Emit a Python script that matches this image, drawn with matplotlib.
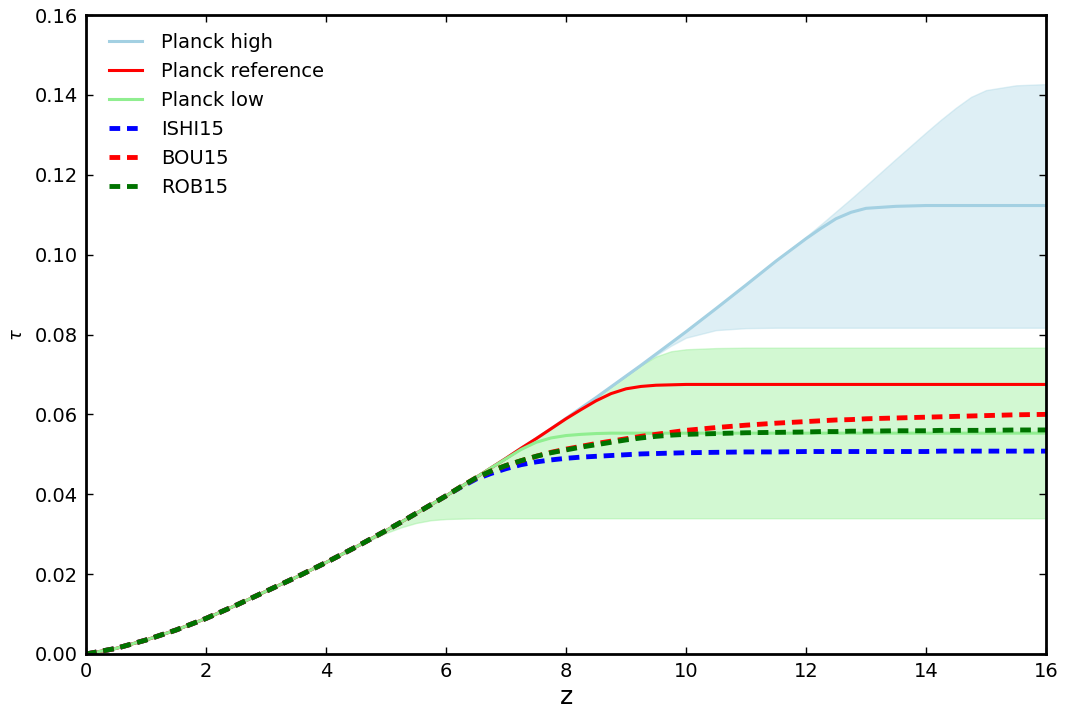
import matplotlib
matplotlib.use('Agg')
import matplotlib.pyplot as plt

# redshift grid
z = [0, 0.5, 1, 1.5, 2, 2.5, 3, 3.5, 4, 4.5,
     5, 5.25, 5.5, 5.75, 6, 6.25, 6.5, 6.75, 7, 7.25,
     7.5, 7.75, 8, 8.25, 8.5, 8.75, 9, 9.25, 9.5, 9.75,
     10, 10.5, 11, 11.5, 12, 12.25, 12.5, 12.75, 13, 13.5,
     14, 14.25, 14.5, 14.75, 15, 15.5, 16]

# Planck high (line + band top/bottom)
tau_high = [0.0, 0.0014, 0.0035, 0.0060, 0.0089, 0.0122, 0.0157, 0.0192, 0.0229, 0.0268,
            0.0309, 0.0330, 0.0352, 0.0374, 0.0396, 0.0419, 0.0442, 0.0466, 0.0490, 0.0515,
            0.0539, 0.0564, 0.0590, 0.0616, 0.0642, 0.0669, 0.0696, 0.0723, 0.0751, 0.0779,
            0.0807, 0.0865, 0.0924, 0.0984, 0.1040, 0.1066, 0.1090, 0.1106, 0.1116, 0.1121,
            0.1123, 0.1123, 0.1123, 0.1123, 0.1123, 0.1123, 0.1123]
tau_high_up = [0.0, 0.0014, 0.0035, 0.0060, 0.0089, 0.0122, 0.0157, 0.0192, 0.0229, 0.0268,
               0.0309, 0.0330, 0.0352, 0.0374, 0.0396, 0.0419, 0.0442, 0.0466, 0.0490, 0.0515,
               0.0539, 0.0564, 0.0590, 0.0616, 0.0642, 0.0669, 0.0696, 0.0723, 0.0751, 0.0779,
               0.0807, 0.0865, 0.0924, 0.0984, 0.1045, 0.1076, 0.1108, 0.1140, 0.1173, 0.1240,
               0.1306, 0.1338, 0.1368, 0.1395, 0.1412, 0.1424, 0.1427]
tau_high_lo = [0.0, 0.0014, 0.0035, 0.0060, 0.0089, 0.0122, 0.0157, 0.0192, 0.0229, 0.0268,
               0.0309, 0.0330, 0.0352, 0.0374, 0.0396, 0.0419, 0.0442, 0.0466, 0.0490, 0.0515,
               0.0539, 0.0564, 0.0590, 0.0616, 0.0642, 0.0669, 0.0696, 0.0723, 0.0748, 0.0772,
               0.0792, 0.0811, 0.0816, 0.0817, 0.0817, 0.0817, 0.0817, 0.0817, 0.0817, 0.0817,
               0.0817, 0.0817, 0.0817, 0.0817, 0.0817, 0.0817, 0.0817]

# Planck reference
tau_ref = [0.0, 0.0014, 0.0035, 0.0060, 0.0089, 0.0122, 0.0157, 0.0192, 0.0229, 0.0268,
           0.0309, 0.0330, 0.0352, 0.0374, 0.0396, 0.0419, 0.0442, 0.0466, 0.0490, 0.0515,
           0.0539, 0.0564, 0.0589, 0.0612, 0.0634, 0.0652, 0.0664, 0.0670, 0.0673, 0.0674,
           0.0675, 0.0675, 0.0675, 0.0675, 0.0675, 0.0675, 0.0675, 0.0675, 0.0675, 0.0675,
           0.0675, 0.0675, 0.0675, 0.0675, 0.0675, 0.0675, 0.0675]

# Planck low (line + band top/bottom)
tau_low = [0.0, 0.0014, 0.0035, 0.0060, 0.0089, 0.0122, 0.0157, 0.0192, 0.0229, 0.0268,
           0.0309, 0.0330, 0.0352, 0.0374, 0.0396, 0.0419, 0.0442, 0.0466, 0.0489, 0.0512,
           0.0530, 0.0541, 0.0547, 0.0550, 0.0552, 0.0553, 0.0553, 0.0553, 0.0553, 0.0553,
           0.0553, 0.0553, 0.0553, 0.0553, 0.0553, 0.0553, 0.0553, 0.0553, 0.0553, 0.0553,
           0.0553, 0.0553, 0.0553, 0.0553, 0.0553, 0.0553, 0.0553]
tau_low_up = [0.0, 0.0014, 0.0035, 0.0060, 0.0089, 0.0122, 0.0157, 0.0192, 0.0229, 0.0268,
              0.0309, 0.0330, 0.0352, 0.0374, 0.0396, 0.0419, 0.0442, 0.0466, 0.0490, 0.0515,
              0.0539, 0.0564, 0.0590, 0.0616, 0.0642, 0.0669, 0.0696, 0.0723, 0.0745, 0.0758,
              0.0763, 0.0766, 0.0767, 0.0767, 0.0767, 0.0767, 0.0767, 0.0767, 0.0767, 0.0767,
              0.0767, 0.0767, 0.0767, 0.0767, 0.0767, 0.0767, 0.0767]
tau_low_lo = [0.0, 0.0014, 0.0035, 0.0060, 0.0089, 0.0122, 0.0157, 0.0192, 0.0229, 0.0268,
              0.0303, 0.0317, 0.0328, 0.0335, 0.0338, 0.0339, 0.0340, 0.0340, 0.0340, 0.0340,
              0.0340, 0.0340, 0.0340, 0.0340, 0.0340, 0.0340, 0.0340, 0.0340, 0.0340, 0.0340,
              0.0340, 0.0340, 0.0340, 0.0340, 0.0340, 0.0340, 0.0340, 0.0340, 0.0340, 0.0340,
              0.0340, 0.0340, 0.0340, 0.0340, 0.0340, 0.0340, 0.0340]

# models
tau_ishi = [0.0, 0.0014, 0.0035, 0.0060, 0.0089, 0.0122, 0.0157, 0.0192, 0.0229, 0.0268,
            0.0309, 0.0330, 0.0352, 0.0374, 0.0396, 0.0418, 0.0438, 0.0452, 0.0464, 0.0474,
            0.0481, 0.0486, 0.0490, 0.0493, 0.0495, 0.0497, 0.0499, 0.0501, 0.0502, 0.0503,
            0.0504, 0.0505, 0.0506, 0.0506, 0.0507, 0.0507, 0.0507, 0.0507, 0.0507, 0.0507,
            0.0507, 0.0508, 0.0508, 0.0508, 0.0508, 0.0508, 0.0508]
tau_bou = [0.0, 0.0014, 0.0035, 0.0060, 0.0089, 0.0122, 0.0157, 0.0192, 0.0229, 0.0268,
           0.0309, 0.0330, 0.0352, 0.0374, 0.0396, 0.0419, 0.0441, 0.0458, 0.0472, 0.0484,
           0.0495, 0.0505, 0.0513, 0.0520, 0.0527, 0.0533, 0.0539, 0.0545, 0.0550, 0.0555,
           0.0560, 0.0567, 0.0573, 0.0578, 0.0582, 0.0584, 0.0586, 0.0587, 0.0589, 0.0591,
           0.0593, 0.0594, 0.0595, 0.0596, 0.0597, 0.0599, 0.0600]
tau_rob = [0.0, 0.0014, 0.0035, 0.0060, 0.0089, 0.0122, 0.0157, 0.0192, 0.0229, 0.0268,
           0.0309, 0.0330, 0.0352, 0.0374, 0.0396, 0.0419, 0.0441, 0.0458, 0.0472, 0.0484,
           0.0495, 0.0504, 0.0511, 0.0518, 0.0524, 0.0530, 0.0536, 0.0541, 0.0545, 0.0548,
           0.0550, 0.0552, 0.0554, 0.0555, 0.0556, 0.0557, 0.0557, 0.0558, 0.0558, 0.0559,
           0.0559, 0.0560, 0.0560, 0.0560, 0.0560, 0.0561, 0.0561]

fig = plt.figure(figsize=(10.71, 7.16), dpi=100)
ax = fig.add_axes([0.0803, 0.0866, 0.8964, 0.8924])

ax.fill_between(z, tau_high_lo, tau_high_up, color='lightblue', alpha=0.4, lw=1)
ax.fill_between(z, tau_low_lo, tau_low_up, color='lightgreen', alpha=0.4, lw=1)

ax.plot(z, tau_high, color='#a3d0e2', lw=2.2, label='Planck high')
ax.plot(z, tau_ref, color='red', lw=2.2, label='Planck reference')
ax.plot(z, tau_low, color='lightgreen', lw=2.2, label='Planck low')

ax.plot(z, tau_ishi, color='blue', lw=3.5, dashes=(2.2, 1.4), label='ISHI15')
ax.plot(z, tau_bou, color='red', lw=3.5, dashes=(2.2, 1.4), label='BOU15')
ax.plot(z, tau_rob, color='#007300', lw=3.5, dashes=(2.2, 1.4), label='ROB15')

ax.set_xlim(0, 16)
ax.set_ylim(0, 0.16)
ax.set_xticks(range(0, 17, 2))
ax.set_yticks([0.0, 0.02, 0.04, 0.06, 0.08, 0.10, 0.12, 0.14, 0.16])
ax.set_yticklabels(['0.00', '0.02', '0.04', '0.06', '0.08', '0.10', '0.12', '0.14', '0.16'])
ax.tick_params(direction='in', top=True, right=True, length=5, width=1, labelsize=14, pad=6)
for s in ax.spines.values():
    s.set_linewidth(2)

ax.set_xlabel('z', fontsize=18, labelpad=3)
ax.set_ylabel(r'$\tau$', fontsize=13, labelpad=6)

ax.legend(loc='upper left', bbox_to_anchor=(0.004, 1.003), frameon=False, fontsize=14,
          handlelength=1.7, handletextpad=0.95, labelspacing=0.52, borderaxespad=0.6)

fig.savefig('out.png', dpi=100)
